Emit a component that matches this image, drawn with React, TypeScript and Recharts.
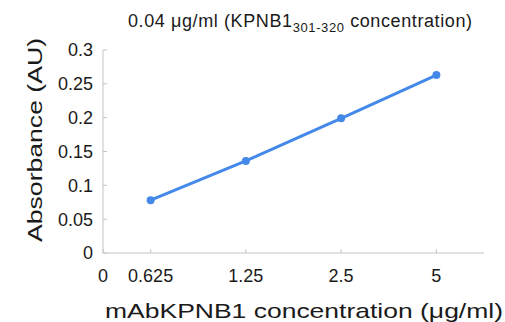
// Absorbance vs. antibody concentration line chart
import { LineChart, Line, XAxis, YAxis, Label } from "recharts";

const categories = ["0.625", "1.25", "2.5", "5"];
const absorbance = [0.078, 0.136, 0.199, 0.263];
const xTickLabels = ["0", "0.625", "1.25", "2.5", "5"];
const yTicks = [0, 0.05, 0.1, 0.15, 0.2, 0.25, 0.3];

const FONT = "'Liberation Sans', Arial, sans-serif";
const TEXT = "#1a1a1a";
const AXIS = "#c4c4c4";
const BLUE = "#4489ea";

// points sit in the middle of each category slot, "0" marks the origin
const chartData = categories.map((c, i) => ({ name: c, x: i + 0.5, value: absorbance[i] }));
const xTicks = [0, ...categories.map((_, i) => i + 0.5)];

export default function App() {
  return (
    <div style={{ position: "absolute", left: 0, top: 0, width: 505, height: 322, background: "#fff" }}>
      <LineChart
        width={505}
        height={322}
        data={chartData}
        margin={{ top: 50, right: 21, left: 0, bottom: 0 }}
      >
        <XAxis
          type="number"
          dataKey="x"
          domain={[0, 4]}
          ticks={xTicks}
          interval={0}
          tickFormatter={(v: number) => xTickLabels[xTicks.indexOf(v)] ?? ""}
          height={69}
          stroke={AXIS}
          tickSize={-4}
          tickMargin={20}
          tick={{ fill: TEXT, fontSize: 18, fontFamily: FONT }}
        >
          <Label
            content={() => (
              <text
                x={105}
                y={317.5}
                fontSize={21}
                fontFamily={FONT}
                fill={TEXT}
                textLength={398}
                lengthAdjust="spacingAndGlyphs"
              >
                mAbKPNB1 concentration (μg/ml)
              </text>
            )}
          />
        </XAxis>
        <YAxis
          domain={[0, 0.3]}
          ticks={yTicks}
          interval={0}
          width={103}
          stroke={AXIS}
          tickSize={-4}
          tickMargin={14}
          tick={{ fill: TEXT, fontSize: 18, fontFamily: FONT }}
        >
          <Label
            content={() => (
              <text
                x={0}
                y={0}
                transform="translate(42,140) rotate(-90)"
                textAnchor="middle"
                fontSize={21}
                fontFamily={FONT}
                fill={TEXT}
                textLength={204}
                lengthAdjust="spacingAndGlyphs"
              >
                Absorbance (AU)
              </text>
            )}
          />
          <Label
            content={() => (
              <text x={128} y={27} fontSize={18} fontFamily={FONT} fill={TEXT} letterSpacing={0.6}>
                <tspan>0.04 μg/ml (KPNB1</tspan>
                <tspan dy={5} fontSize={13}>301-320</tspan>
                <tspan dy={-5}> concentration)</tspan>
              </text>
            )}
          />
        </YAxis>
        <Line
          dataKey="value"
          stroke={BLUE}
          strokeWidth={3}
          dot={{ r: 4, fill: BLUE, stroke: BLUE, strokeWidth: 0 }}
          isAnimationActive={false}
        />
      </LineChart>
    </div>
  );
}
